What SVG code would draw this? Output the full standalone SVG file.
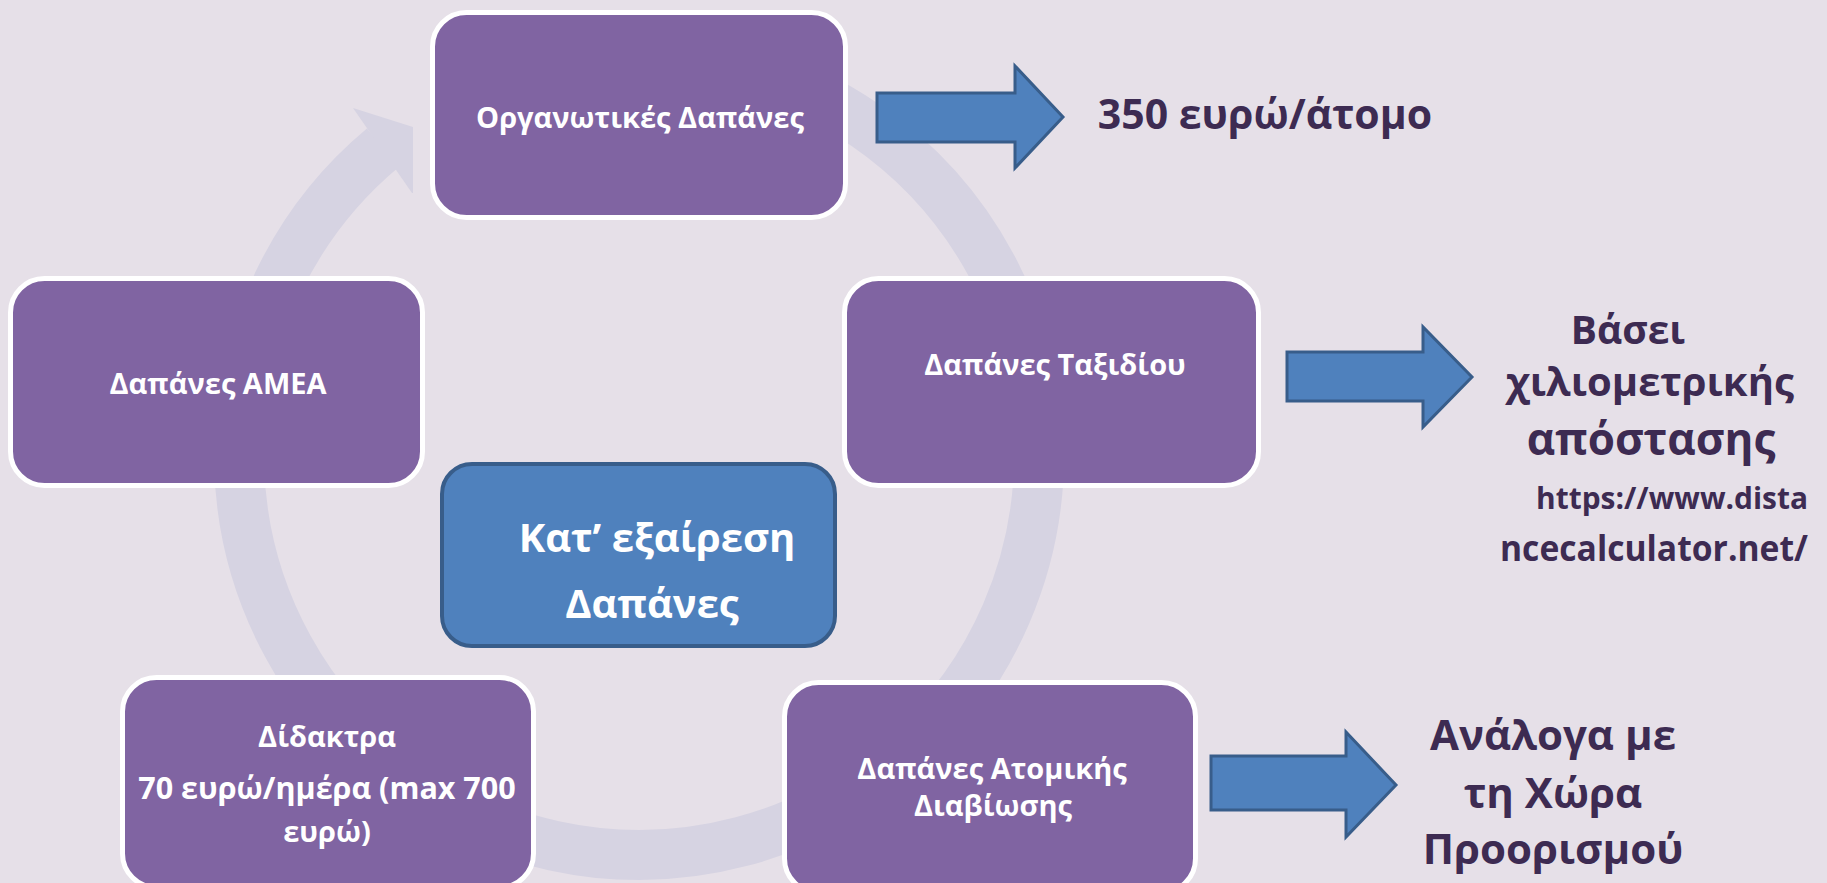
<svg xmlns="http://www.w3.org/2000/svg" width="1827" height="883" viewBox="0 0 1827 883">
<style>
.node{fill:#8064a2;stroke:#ffffff;stroke-width:5}
.center{fill:#4f81bd;stroke:#385d8a;stroke-width:4}
.ntext{font-family:"Open Sans","Noto Sans","DejaVu Sans",sans-serif;font-weight:bold;fill:#ffffff;text-anchor:middle;font-size:29px}
.rtext{font-family:"Open Sans","Noto Sans","DejaVu Sans",sans-serif;font-weight:bold;fill:#3d2b52;text-anchor:middle}
.barrow{fill:#4f81bd;stroke:#385d8a;stroke-width:3;stroke-linejoin:miter}
.ring{fill:none;stroke:#d6d3e2;stroke-width:50}
</style>
<rect x="0" y="0" width="1827" height="883" fill="#e6e0e8"/>
<g id="connectors">
<path class="ring" d="M 708.5 61 A 400 400 0 1 1 382.9 147.7"/>
<polygon points="353,108 413,127 413,193 412,193" fill="#d6d3e2"/>
<polygon class="barrow" points="877,93 1015,93 1015,66 1063,117 1015,168 1015,142 877,142"/>
<polygon class="barrow" points="1287,352 1423,352 1423,327 1472,377 1423,427 1423,401 1287,401"/>
<polygon class="barrow" points="1211,756 1346,756 1346,732 1396,785 1346,837 1346,810 1211,810"/>
</g>
<g id="node-organotikes">
<rect class="node" x="432.5" y="12.5" width="413" height="205" rx="34"/>
<text class="ntext" x="640" y="128">Οργανωτικές Δαπάνες</text>
</g>
<g id="node-amea">
<rect class="node" x="10.5" y="278.5" width="412" height="207" rx="34"/>
<text class="ntext" x="218" y="394">Δαπάνες ΑΜΕΑ</text>
</g>
<g id="node-taxidiou">
<rect class="node" x="844.5" y="278.5" width="414" height="207" rx="34"/>
<text class="ntext" x="1055" y="375">Δαπάνες Ταξιδίου</text>
</g>
<g id="node-center">
<rect class="center" x="442" y="464" width="393" height="182" rx="30"/>
<text class="ntext" x="657" y="552" style="font-size:40px">Κατ’ εξαίρεση</text>
<text class="ntext" x="652" y="618" style="font-size:40px">Δαπάνες</text>
</g>
<g id="node-didaktra">
<rect class="node" x="122.5" y="677.5" width="411" height="210" rx="34"/>
<text class="ntext" x="327" y="747">Δίδακτρα</text>
<text class="ntext" x="327" y="799" style="font-size:30.5px">70 ευρώ/ημέρα (max 700</text>
<text class="ntext" x="327" y="842">ευρώ)</text>
</g>
<g id="node-atomikis">
<rect class="node" x="784.5" y="682.5" width="411" height="210" rx="34"/>
<text class="ntext" x="992" y="779">Δαπάνες Ατομικής</text>
<text class="ntext" x="993" y="816">Διαβίωσης</text>
</g>
<g id="label-350">
<text class="rtext" x="1265" y="129" font-size="41">350 ευρώ/άτομο</text>
</g>
<g id="label-vasei">
<text class="rtext" x="1628" y="344" font-size="39">Βάσει</text>
<text class="rtext" x="1650" y="396" font-size="40">χιλιομετρικής</text>
<text class="rtext" x="1651" y="455" font-size="44">απόστασης</text>
<text class="rtext" x="1536" y="509" font-size="30.5" style="text-anchor:start" textLength="272" lengthAdjust="spacingAndGlyphs">https://www.dista</text>
<text class="rtext" x="1500" y="561" font-size="35" style="text-anchor:start" textLength="308" lengthAdjust="spacingAndGlyphs">ncecalculator.net/</text>
</g>
<g id="label-analoga">
<text class="rtext" x="1553" y="750" font-size="42">Ανάλογα με</text>
<text class="rtext" x="1553" y="808" font-size="42">τη Χώρα</text>
<text class="rtext" x="1553" y="864" font-size="42">Προορισμού</text>
</g>
</svg>
